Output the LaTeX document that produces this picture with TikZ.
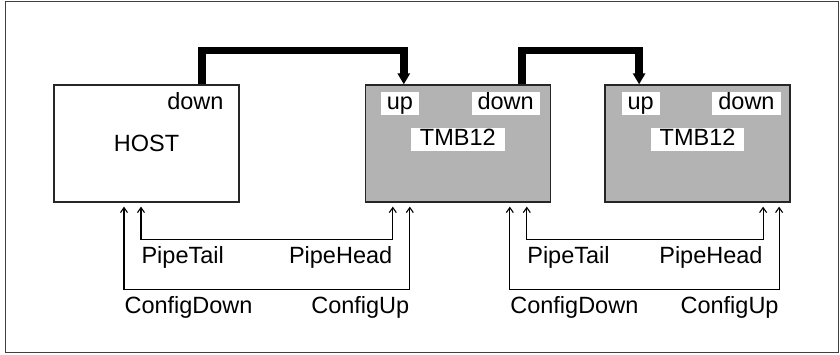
\documentclass[tikz,border=0pt]{standalone}
\usepackage{fontspec}
\setmainfont{Liberation Sans}
\usepackage{xcolor}
\usepackage{tikz}
\usetikzlibrary{positioning,arrows.meta,calc}
\definecolor{unitgrey}{HTML}{B3B3B3}
\definecolor{unitstroke}{HTML}{262626}
\definecolor{framegrey}{HTML}{404040}
\tikzset{
  box/.style   = {draw=unitstroke, line width=1.3pt, minimum width=185pt,
                  minimum height=117pt, inner sep=0pt},
  hostbox/.style = {box, fill=white},
  unit/.style  = {box, fill=unitgrey},
  port/.style  = {fill=white, inner xsep=6pt, inner ysep=1pt,
                  text height=17pt, text depth=4pt},
  unitname/.style = {port, inner xsep=9pt},
  bus/.style   = {-{Triangle[length=11pt,width=12pt]}, line width=7.5pt},
  sig/.style   = {{Straight Barb[length=5pt,width=7pt]}-{Straight Barb[length=5pt,width=7pt]},
                  line width=1.1pt},
  lab/.style   = {inner sep=0pt, text height=17pt, text depth=5pt, yshift=-7pt},
  frame/.style = {draw=framegrey, line width=0.9pt},
}
\begin{document}
\begin{tikzpicture}[x=1pt, y=1pt, font=\fontsize{23.5}{28}\selectfont]
  \useasboundingbox (0,0) rectangle (840,354);
  \draw[frame] (5,2) rectangle (838.5,353);

  \node[hostbox] (host) at (146.5,210.5) {HOST};
  \node[unit, right=125pt of host] (tmb1) {};
  \node[unit, right=53.5pt of tmb1] (tmb2) {};

  % --- port and name tags ---
  \node[port, anchor=north east] (hostdown) at ([shift={(-10,-7)}]host.north east) {down};
  \node[port, anchor=north west] (tmb1up)   at ([shift={(16,-7)}]tmb1.north west) {up};
  \node[port, anchor=north east] (tmb1down) at ([shift={(-11,-7)}]tmb1.north east) {down};
  \node[unitname] (tmb1name) at ([yshift=4pt]tmb1.center) {TMB12};
  \node[port, anchor=north west] (tmb2up)   at ([shift={(17,-7)}]tmb2.north west) {up};
  \node[port, anchor=north east] (tmb2down) at ([shift={(-10,-7)}]tmb2.north east) {down};
  \node[unitname] (tmb2name) at ([yshift=4pt]tmb2.center) {TMB12};

  % --- down -> up links ---
  \draw[bus] ([xshift=55.5pt]host.north) -- ++(0,34) -| ([xshift=-54pt]tmb1.north);
  \draw[bus] ([xshift=64pt]tmb1.north) -- ++(0,34) -| ([xshift=-58.5pt]tmb2.north);

  % --- pipe and config lines ---
  \draw[sig] ([shift={(-5.5,-4)}]host.south) -- ++(0,-32.5)
    -| node[lab, pos=0, anchor=north west]{PipeTail}
       node[lab, pos=0.5, anchor=north east]{PipeHead} ([shift={(-65,-4)}]tmb1.south);
  \draw[sig] ([shift={(-22.5,-4)}]host.south) -- ++(0,-82.5)
    -| node[lab, pos=0, anchor=north west]{ConfigDown}
       node[lab, pos=0.5, anchor=north east]{ConfigUp} ([shift={(-48,-4)}]tmb1.south);
  \draw[sig] ([shift={(69,-4)}]tmb1.south) -- ++(0,-32.5)
    -| node[lab, pos=0, anchor=north west]{PipeTail}
       node[lab, pos=0.5, anchor=north east]{PipeHead} ([shift={(65.5,-4)}]tmb2.south);
  \draw[sig] ([shift={(52,-4)}]tmb1.south) -- ++(0,-82.5)
    -| node[lab, pos=0, anchor=north west]{ConfigDown}
       node[lab, pos=0.5, anchor=north east]{ConfigUp} ([shift={(81.5,-4)}]tmb2.south);
\end{tikzpicture}
\end{document}
